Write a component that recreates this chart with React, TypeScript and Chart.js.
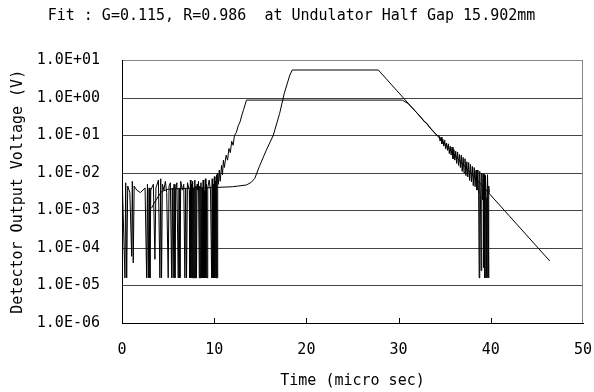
import { useEffect, useRef } from "react";
import { Chart, registerables } from "chart.js";

Chart.register(...registerables);

const FONT = "'DejaVu Sans Mono', monospace";

const chartTitle = "Fit : G=0.115, R=0.986  at Undulator Half Gap 15.902mm";
const xTitle = "Time (micro sec)";
const yTitle = "Detector Output Voltage (V)";

const yTickValues = [1e-6, 1e-5, 1e-4, 1e-3, 1e-2, 1e-1, 1, 10];
const yTickLabels = ["1.0E-06", "1.0E-05", "1.0E-04", "1.0E-03", "1.0E-02", "1.0E-01", "1.0E+00", "1.0E+01"];
const xTickStep = 10;
const innerTickValues = [10, 20, 30, 40];

// measured signal: noisy baseline before the pulse (time in micro sec, voltage in V)
const noiseT = [
  0.05, 0.32, 0.4, 0.51, 0.62, 0.85, 1.05, 1.12, 1.22, 1.32,
  1.6, 2.0, 2.5, 2.67, 2.76, 2.85, 2.94, 3.03, 3.12, 3.4,
  3.57, 3.68, 3.95, 4.11, 4.2, 4.29, 4.38, 4.55, 4.7, 4.85,
  5.01, 5.1, 5.25, 5.38, 5.46, 5.55, 5.64, 5.74, 5.83, 5.95,
  6.1, 6.19, 6.28, 6.37, 6.55, 6.7, 6.82, 6.91, 7.0, 7.1,
  7.3, 7.36, 7.42, 7.48, 7.54, 7.6, 7.66, 7.72, 7.78, 7.84,
  7.9, 7.96, 8.02, 8.08, 8.14, 8.22, 8.3, 8.38, 8.44, 8.5,
  8.56, 8.62, 8.68, 8.74, 8.8, 8.86, 8.92, 8.98, 9.04, 9.1,
  9.16, 9.22, 9.3, 9.45, 9.6, 9.72, 9.78, 9.84, 9.9, 9.96,
  10.02, 10.08, 10.14, 10.2, 10.26, 10.32, 10.38,
];
const noiseV = [
  4.0e-3, 1.6e-5, 5.5e-3, 1.6e-5, 4.5e-3, 3.0e-3, 6.0e-5, 6.0e-3, 4.0e-5, 4.5e-3,
  3.5e-3, 3.0e-3, 4.0e-3, 1.6e-5, 5.0e-3, 1.6e-5, 4.0e-3, 1.6e-5, 3.5e-3, 5.0e-3,
  5.0e-5, 4.0e-3, 6.5e-3, 1.6e-5, 7.0e-3, 1.6e-5, 5.0e-3, 3.5e-3, 6.0e-3, 3.0e-3,
  1.6e-5, 4.5e-3, 5.5e-3, 1.6e-5, 4.0e-3, 1.6e-5, 5.0e-3, 1.6e-5, 3.5e-3, 5.5e-3,
  1.6e-5, 4.0e-3, 1.6e-5, 6.0e-3, 3.5e-3, 5.0e-3, 1.6e-5, 4.0e-3, 1.6e-5, 5.5e-3,
  3.5e-3, 1.6e-5, 6.5e-3, 1.6e-5, 5.0e-3, 1.6e-5, 6.0e-3, 1.6e-5, 4.0e-3, 1.6e-5,
  6.5e-3, 1.6e-5, 4.5e-3, 1.6e-5, 5.0e-3, 3.5e-3, 6.0e-3, 1.6e-5, 4.5e-3, 1.6e-5,
  5.5e-3, 1.6e-5, 4.0e-3, 1.6e-5, 6.5e-3, 1.6e-5, 3.5e-3, 1.6e-5, 7.0e-3, 1.6e-5,
  5.0e-3, 1.6e-5, 4.0e-3, 6.5e-3, 3.5e-3, 1.6e-5, 7.0e-3, 1.6e-5, 5.0e-3, 1.6e-5,
  8.0e-3, 1.6e-5, 6.0e-3, 1.6e-5, 9.0e-3, 1.6e-5, 1.0e-2,
];

// measured signal: rising edge up to the saturated level
const riseT = [10.45, 10.55, 10.65, 10.8, 10.9, 11.0, 11.1, 11.3, 11.45, 11.6, 11.75, 11.9, 12.05, 12.2, 12.4, 12.6, 12.8, 13.0, 13.2, 13.5];
const riseV = [5.0e-3, 1.2e-2, 6.0e-3, 1.6e-2, 9.0e-3, 2.2e-2, 1.4e-2, 3.0e-2, 2.2e-2, 4.5e-2, 3.5e-2, 7.0e-2, 5.5e-2, 1.0e-1, 1.2e-1, 1.8e-1, 2.3e-1, 3.5e-1, 5.0e-1, 8.8e-1];

// measured signal: end of the flat level and noisy decay
const decayT = [
  30.4, 31.0, 31.5, 32.0, 32.5, 32.8, 33.0, 33.5, 34.0, 34.2,
  34.4, 34.5, 34.6, 34.7, 34.8, 34.9, 35.0, 35.1, 35.2, 35.3,
  35.4, 35.5, 35.6, 35.7, 35.8, 35.9, 36.0, 36.1, 36.2, 36.3,
  36.4, 36.5, 36.6, 36.7, 36.8, 36.9, 37.0, 37.1, 37.2, 37.3,
  37.4, 37.5, 37.6, 37.7, 37.8, 37.9, 38.0, 38.1, 38.2, 38.3,
  38.4, 38.5, 38.6, 38.68, 38.74, 38.8, 38.88, 38.95, 39.02, 39.1,
  39.18, 39.25, 39.3, 39.36, 39.42, 39.5, 39.58, 39.64, 39.7, 39.75,
  39.8, 39.85,
];
const decayV = [
  8.8e-1, 7.2e-1, 5.4e-1, 4.0e-1, 2.9e-1, 2.3e-1, 2.2e-1, 1.5e-1, 1.1e-1, 1.0e-1,
  9.8e-2, 7.1e-2, 9.0e-2, 6.0e-2, 8.0e-2, 5.2e-2, 7.5e-2, 4.4e-2, 6.3e-2, 4.0e-2,
  6.0e-2, 3.3e-2, 5.2e-2, 3.0e-2, 4.9e-2, 2.4e-2, 4.2e-2, 2.2e-2, 3.8e-2, 1.8e-2,
  3.6e-2, 1.6e-2, 3.1e-2, 1.4e-2, 3.0e-2, 1.1e-2, 2.6e-2, 1.0e-2, 2.4e-2, 8.5e-3,
  2.0e-2, 7.8e-3, 1.9e-2, 6.3e-3, 1.7e-2, 5.8e-3, 1.5e-2, 4.6e-3, 1.4e-2, 4.3e-3,
  1.2e-2, 3.5e-3, 1.2e-2, 2.5e-3, 1.6e-5, 1.1e-2, 2.0e-3, 2.5e-5, 1.0e-2, 1.9e-3,
  9.5e-3, 3.0e-5, 9.0e-3, 1.6e-5, 8.5e-3, 2.2e-3, 1.6e-5, 9.0e-3, 2.5e-3, 1.6e-5,
  4.5e-3, 3.0e-3,
];

// fitted curve
const fitT = [3.2, 3.5, 3.9, 4.3, 5.0, 7.0, 10.0, 12.0, 13.5, 14.0, 14.4, 14.9, 15.66, 16.4, 17.1, 17.6, 18.2, 18.47, 27.8, 46.4];
const fitV = [1.15e-3, 1.6e-3, 2.3e-3, 3.2e-3, 3.7e-3, 3.9e-3, 4.1e-3, 4.3e-3, 4.8e-3, 5.6e-3, 7.2e-3, 1.5e-2, 4.1e-2, 1.0e-1, 3.9e-1, 1.33, 4.07, 5.58, 5.58, 4.5e-5];

const measT = [...noiseT, ...riseT, ...decayT];
const measV = [...noiseV, ...riseV, ...decayV];

const framePlugin = {
  id: "frame",
  afterDraw(chart: any) {
    const { ctx, chartArea, scales } = chart;
    const { right, top, bottom } = chartArea;
    ctx.save();
    ctx.lineWidth = 1;
    ctx.strokeStyle = "#888";
    ctx.beginPath();
    ctx.moveTo(Math.round(right) - 0.5, top);
    ctx.lineTo(Math.round(right) - 0.5, bottom);
    ctx.stroke();
    ctx.strokeStyle = "#000";
    ctx.beginPath();
    for (const v of innerTickValues) {
      const px = Math.round(scales.x.getPixelForValue(v)) + 0.5;
      ctx.moveTo(px, bottom);
      ctx.lineTo(px, bottom - 5);
    }
    ctx.stroke();
    ctx.restore();
  },
};

export default function App() {
  const ref = useRef<HTMLCanvasElement>(null);
  useEffect(() => {
    const canvas = ref.current;
    if (!canvas) return;
    const chart = new Chart(canvas, {
      type: "line",
      data: {
        datasets: [
          {
            data: measT.map((t, i) => ({ x: t, y: measV[i] })),
            borderColor: "#000",
            borderWidth: 1,
            pointRadius: 0,
            tension: 0,
            fill: false,
          },
          {
            data: fitT.map((t, i) => ({ x: t, y: fitV[i] })),
            borderColor: "#000",
            borderWidth: 1,
            pointRadius: 0,
            tension: 0,
            fill: false,
          },
        ],
      },
      options: {
        responsive: false,
        animation: false,
        layout: { padding: { left: 0, right: 11, top: 0, bottom: 0 } },
        plugins: {
          legend: { display: false },
          tooltip: { enabled: false },
          title: {
            display: true,
            text: chartTitle,
            color: "#000",
            font: { family: FONT, size: 15, weight: "normal", lineHeight: 1.2 },
            padding: { top: 7, bottom: 35.5 },
          },
        },
        scales: {
          x: {
            type: "linear",
            min: 0,
            max: 50,
            afterFit: (s: any) => {
              s.height = 69;
              s.paddingLeft = 0;
              s.paddingRight = 0;
            },
            ticks: {
              stepSize: xTickStep,
              color: "#000",
              font: { family: FONT, size: 15 },
              padding: 18,
              maxRotation: 0,
            },
            grid: { drawOnChartArea: false, drawTicks: false },
            border: { color: "#000", width: 1 },
            title: {
              display: true,
              text: xTitle,
              color: "#000",
              font: { family: FONT, size: 15 },
              padding: { top: 0, bottom: 2 },
            },
          },
          y: {
            type: "logarithmic",
            min: 1e-6,
            max: 10,
            afterFit: (s: any) => {
              s.width = 122;
            },
            afterBuildTicks: (s: any) => {
              s.ticks = yTickValues.map((v) => ({ value: v }));
            },
            ticks: {
              color: "#000",
              font: { family: FONT, size: 15 },
              padding: 22,
              callback: (v: any) => yTickLabels[Math.round(Math.log10(Number(v))) + 6],
            },
            grid: {
              drawTicks: false,
              color: (c: any) => (c.tick && c.tick.value >= 10 ? "#888" : "#444"),
            },
            border: { color: "#000", width: 1 },
            title: {
              display: true,
              text: yTitle,
              color: "#000",
              font: { family: FONT, size: 15 },
              padding: { top: 9, bottom: 0 },
            },
          },
        },
      },
      plugins: [framePlugin],
    } as any);
    return () => chart.destroy();
  }, []);
  return (
    <div style={{ position: "fixed", left: 0, top: 0, width: 594, height: 392, background: "#fff" }}>
      <canvas ref={ref} width={594} height={392} style={{ display: "block" }} />
    </div>
  );
}
